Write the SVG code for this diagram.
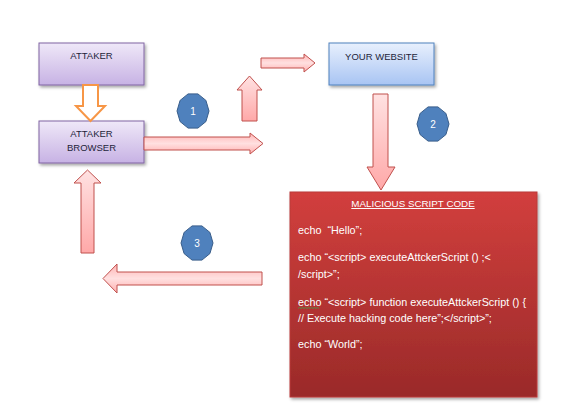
<svg xmlns="http://www.w3.org/2000/svg" xmlns:xlink="http://www.w3.org/1999/xlink" width="564" height="418" viewBox="0 0 564 418">
<style>
.t{font-family:"Liberation Sans",Arial,sans-serif;font-size:9.5px;fill:#1f1f3a;text-anchor:middle}
.w{font-family:"Liberation Sans",Arial,sans-serif;font-size:10.8px;fill:#ffffff}
.h{font-family:"Liberation Sans",Arial,sans-serif;font-size:9.8px;fill:#ffffff;text-anchor:middle}
.n{font-family:"Liberation Sans",Arial,sans-serif;font-size:10px;fill:#ffffff;text-anchor:middle}
.arr{fill:url(#pinkV);stroke:#c0504d;stroke-width:1}
.arrh{fill:url(#pinkH);stroke:#c0504d;stroke-width:1}
.badge{fill:#4f81bd;stroke:#385d8a;stroke-width:1}
</style>
<defs>
<linearGradient id="purple" x1="0" y1="0" x2="0" y2="1"><stop offset="0" stop-color="#efe8f8"/><stop offset="1" stop-color="#c7b2e4"/></linearGradient>
<linearGradient id="blue" x1="0" y1="0" x2="0" y2="1"><stop offset="0" stop-color="#e8f0fd"/><stop offset="1" stop-color="#a8c4f3"/></linearGradient>
<linearGradient id="red" x1="0" y1="0" x2="0" y2="1"><stop offset="0" stop-color="#d23f3d"/><stop offset="1" stop-color="#9a2a29"/></linearGradient>
<linearGradient id="pinkV" x1="0" y1="0" x2="0" y2="1"><stop offset="0" stop-color="#ffe2e2"/><stop offset="1" stop-color="#ffa8a8"/></linearGradient>
<linearGradient id="pinkH" x1="0" y1="0" x2="0" y2="1"><stop offset="0" stop-color="#ffb4b4"/><stop offset="0.5" stop-color="#ffe0e0"/><stop offset="1" stop-color="#ffb0b0"/></linearGradient>
<filter id="sh" x="-10%" y="-10%" width="125%" height="130%"><feDropShadow dx="1.5" dy="2" stdDeviation="1.5" flood-color="#000" flood-opacity="0.35"/></filter>
<polygon id="deca" points="16,0 12.9,-10.6 4.9,-17.1 -4.9,-17.1 -12.9,-10.6 -16,0 -12.9,10.6 -4.9,17.1 4.9,17.1 12.9,10.6"/>
</defs>
<rect width="564" height="418" fill="#ffffff"/>

<g id="attaker">
<rect x="39" y="43" width="105" height="42" fill="url(#purple)" stroke="#8064a2" stroke-width="1" filter="url(#sh)"/>
<text class="t" x="91.5" y="59">ATTAKER</text>
</g>
<g id="attaker-browser">
<rect x="39" y="121" width="105" height="42" fill="url(#purple)" stroke="#8064a2" stroke-width="1" filter="url(#sh)"/>
<text class="t" x="91.5" y="137">ATTAKER</text>
<text class="t" x="91.5" y="151">BROWSER</text>
</g>
<g id="your-website">
<rect x="329" y="43" width="105" height="42" fill="url(#blue)" stroke="#4f81bd" stroke-width="1" filter="url(#sh)"/>
<text class="t" x="381.5" y="60">YOUR WEBSITE</text>
</g>
<g id="malicious-script">
<rect x="290" y="192" width="247" height="205" fill="url(#red)" stroke="#b93b38" stroke-width="1" filter="url(#sh)"/>
<text class="h" x="413" y="207" text-decoration="underline">MALICIOUS SCRIPT CODE</text>
<text class="w" x="298" y="234" xml:space="preserve">echo  “Hello”;</text>
<text class="w" x="298" y="261">echo “&lt;script&gt; executeAttckerScript () ;&lt;</text>
<text class="w" x="298" y="278">/script&gt;”;</text>
<text class="w" x="298" y="306">echo “&lt;script&gt; function executeAttckerScript () {</text>
<path d="M298,308.5 l1.5,-1 l1.5,1 l1.5,-1 l1.5,1 l1.5,-1 l1.5,1 l1.5,-1 l1.5,1 l1.5,-1 l1.5,1 l1.5,-1 l1.5,1 l1.5,-1 l1.5,1" fill="none" stroke="#3fa34a" stroke-width="0.8"/>
<text class="w" x="298" y="322">// Execute hacking code here”;&lt;/script&gt;”;</text>
<text class="w" x="298" y="348">echo “World”;</text>
</g>
<g id="badge-1"><use xlink:href="#deca" x="193" y="111" class="badge"/><text class="n" x="193" y="114.5">1</text></g>
<g id="badge-2"><use xlink:href="#deca" x="433" y="124" class="badge"/><text class="n" x="433" y="127.5">2</text></g>
<g id="badge-3"><use xlink:href="#deca" x="197" y="243" class="badge"/><text class="n" x="197" y="246.5">3</text></g>

<g id="connectors">
<polygon points="83,85 98,85 98,106 105,106 90.5,121 76,106 83,106" fill="#ffffff" stroke="#f79646" stroke-width="2" stroke-linejoin="miter"/>
<polygon class="arrh" points="144,137 250,137 250,133 263,143.5 250,154 250,150 144,150"/>
<polygon class="arr" points="242,121 242,90 237,90 249.5,76 262,90 257,90 257,121"/>
<polygon class="arrh" points="261,58 304,58 304,54 315,63 304,72 304,68 261,68"/>
<polygon class="arr" points="373,94 388,94 388,167 395,167 381,190 367,167 373,167"/>
<polygon class="arr" points="81,253 81,183 74,183 87.5,170 101,183 94,183 94,253"/>
<polygon class="arrh" points="262,272 117,272 117,264 103,278.5 117,293 117,285 262,285"/>
</g>
</svg>
